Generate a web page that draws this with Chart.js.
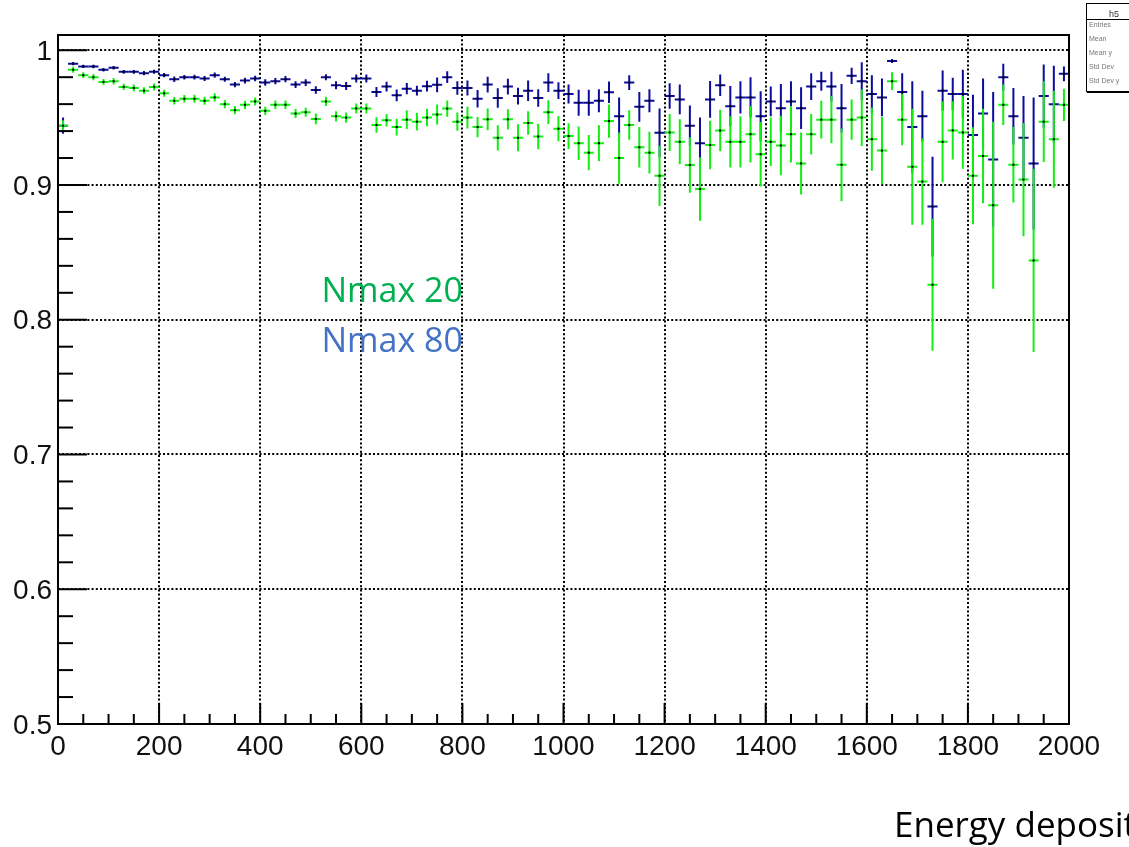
<!DOCTYPE html>
<html><head><meta charset="utf-8">
<script src="https://cdn.jsdelivr.net/npm/chart.js@4/dist/chart.umd.min.js"></script>
<style>html,body{margin:0;padding:0;background:#fff;overflow:hidden}canvas{display:block}</style>
</head><body>
<canvas id="c" width="1129" height="847"></canvas>
<script>
// ---- data ----
const binWidth = 20;            // histogram bin width (0..2000, 100 bins)
const xMin = 0, xMax = 2000, yMin = 0.5, yMax = 1.0113;
const xTicks = [0, 200, 400, 600, 800, 1000, 1200, 1400, 1600, 1800, 2000];
const xTickLabels = ["0", "200", "400", "600", "800", "1000", "1200", "1400", "1600", "1800", "2000"];
const yTicks = [0.5, 0.6, 0.7, 0.8, 0.9, 1.0];
const yTickLabels = ["0.5", "0.6", "0.7", "0.8", "0.9", "1"];
const seriesNames = ["Nmax 80", "Nmax 20"];

const effNmax80 = [
  0.944, 0.990, 0.988, 0.988, 0.9855, 0.987, 0.984, 0.984, 0.983, 0.984,
  0.9815, 0.9785, 0.980, 0.980, 0.979, 0.9815, 0.9785, 0.9745, 0.9775, 0.979,
  0.976, 0.977, 0.9785, 0.9745, 0.976, 0.9705, 0.980, 0.974, 0.9735, 0.979,
  0.979, 0.969, 0.973, 0.9665, 0.9715, 0.970, 0.9733, 0.9743, 0.980, 0.972,
  0.972, 0.964, 0.9745, 0.9645, 0.973, 0.966, 0.970, 0.9645, 0.976, 0.970,
  0.9675, 0.961, 0.961, 0.9625, 0.9688, 0.951, 0.976, 0.958, 0.9625, 0.9388,
  0.966, 0.9635, 0.944, 0.931, 0.9635, 0.974, 0.9585, 0.965, 0.965, 0.951,
  0.962, 0.957, 0.962, 0.957, 0.973, 0.977, 0.973, 0.957, 0.981, 0.977,
  0.9675, 0.965, 0.992, 0.969, 0.943, 0.951, 0.884, 0.970, 0.9675, 0.9675,
  0.937, 0.953, 0.919, 0.980, 0.951, 0.935, 0.916, 0.966, 0.960, 0.9825
];
const errNmax80 = [
  0.006, 0.0012, 0.0012, 0.0013, 0.0013, 0.0013, 0.0014, 0.0014, 0.0015, 0.0015,
  0.0016, 0.0020, 0.0017, 0.0018, 0.0018, 0.0019, 0.0019, 0.0020, 0.0021, 0.0021,
  0.0024, 0.0023, 0.0023, 0.0025, 0.0025, 0.0028, 0.0022, 0.0030, 0.0030, 0.0030,
  0.0030, 0.0038, 0.0037, 0.0044, 0.0042, 0.0036, 0.0040, 0.0054, 0.0044, 0.0050,
  0.0056, 0.0065, 0.0058, 0.0072, 0.0058, 0.0062, 0.0076, 0.0065, 0.0070, 0.0062,
  0.0070, 0.0097, 0.0097, 0.0085, 0.0080, 0.0140, 0.0055, 0.0110, 0.0085, 0.0180,
  0.0095, 0.0110, 0.0150, 0.0190, 0.0137, 0.0080, 0.0150, 0.012, 0.015, 0.0185,
  0.011, 0.018, 0.015, 0.0155, 0.010, 0.007, 0.011, 0.018, 0.006, 0.014,
  0.014, 0.014, 0.0015, 0.014, 0.034, 0.019, 0.037, 0.015, 0.012, 0.018,
  0.030, 0.026, 0.050, 0.010, 0.021, 0.031, 0.049, 0.0235, 0.0285, 0.0055
];
const effNmax20 = [
  0.944, 0.9855, 0.9815, 0.980, 0.9765, 0.977, 0.9728, 0.972, 0.970, 0.9728,
  0.968, 0.9625, 0.964, 0.964, 0.9625, 0.965, 0.960, 0.9555, 0.9595, 0.962,
  0.955, 0.9595, 0.9595, 0.953, 0.954, 0.949, 0.962, 0.951, 0.950, 0.9568,
  0.9568, 0.9445, 0.948, 0.943, 0.9485, 0.947, 0.950, 0.9523, 0.9567, 0.947,
  0.950, 0.943, 0.9487, 0.935, 0.9487, 0.935, 0.946, 0.936, 0.954, 0.9418,
  0.9363, 0.931, 0.924, 0.931, 0.9474, 0.920, 0.9445, 0.928, 0.924, 0.9068,
  0.939, 0.932, 0.9148, 0.897, 0.9297, 0.9404, 0.932, 0.932, 0.9377, 0.9228,
  0.932, 0.9293, 0.9377, 0.916, 0.9377, 0.9485, 0.9485, 0.915, 0.9485, 0.950,
  0.934, 0.9255, 0.977, 0.9485, 0.9135, 0.9025, 0.826, 0.932, 0.9405, 0.939,
  0.9068, 0.9215, 0.885, 0.9595, 0.915, 0.904, 0.844, 0.947, 0.934, 0.9595
];
const errNmax20 = [
  0.004, 0.0022, 0.0022, 0.0023, 0.0022, 0.0024, 0.0024, 0.0025, 0.0025, 0.0026,
  0.0026, 0.0028, 0.0028, 0.0029, 0.0029, 0.0030, 0.0030, 0.0031, 0.0031, 0.0030,
  0.0030, 0.0032, 0.0032, 0.0033, 0.0034, 0.0040, 0.0034, 0.0038, 0.0038, 0.0037,
  0.0037, 0.0058, 0.0046, 0.0062, 0.0070, 0.0066, 0.0065, 0.0075, 0.0060, 0.0068,
  0.0080, 0.0075, 0.0080, 0.0094, 0.0075, 0.0100, 0.0088, 0.0095, 0.0088, 0.0094,
  0.0096, 0.0124, 0.0130, 0.0134, 0.0124, 0.0190, 0.0110, 0.0150, 0.0155, 0.0224,
  0.0137, 0.0167, 0.0206, 0.0236, 0.0180, 0.0154, 0.0190, 0.019, 0.021, 0.024,
  0.018, 0.022, 0.021, 0.023, 0.015, 0.014, 0.0175, 0.027, 0.015, 0.021,
  0.0235, 0.025, 0.0066, 0.019, 0.043, 0.032, 0.049, 0.030, 0.0216, 0.027,
  0.036, 0.035, 0.062, 0.015, 0.028, 0.042, 0.068, 0.030, 0.036, 0.012
];
const statsTitle = "h5";
const statsLabels = ["Entries", "Mean", "Mean y", "Std Dev", "Std Dev y"];
const xAxisTitle = "Energy deposit";

// ---- build ----
const binCenters = effNmax80.map((_, i) => xMin + binWidth * (i + 0.5));
function pts(vals) { return vals.map((v, i) => ({ x: binCenters[i], y: v })); }

const blueCol = '#0c0c9c', greenCol = '#12ee12';

const rootPlugin = {
  id: 'rootStyle',
  beforeDatasetsDraw(chart) {
    const { ctx, chartArea: a, scales: { x, y } } = chart;
    ctx.save();
    ctx.strokeStyle = '#000';
    ctx.lineWidth = 2;
    ctx.setLineDash([2, 2.2]);
    xTicks.forEach(v => {
      if (v <= xMin || v >= xMax) return;
      const px = Math.round(x.getPixelForValue(v));
      ctx.beginPath(); ctx.moveTo(px, a.top); ctx.lineTo(px, a.bottom); ctx.stroke();
    });
    yTicks.forEach(v => {
      if (v <= yMin) return;
      const py = Math.round(y.getPixelForValue(v));
      ctx.beginPath(); ctx.moveTo(a.left, py); ctx.lineTo(a.right, py); ctx.stroke();
    });
    ctx.restore();
  },
  afterDatasetsDraw(chart) {
    const { ctx, chartArea: a, scales: { x, y } } = chart;
    ctx.save();
    // error crosses
    chart.data.datasets.forEach(ds => {
      ctx.strokeStyle = ds.borderColor;
      ctx.lineWidth = 2;
      ds.data.forEach((p, i) => {
        const e = ds.errors[i];
        const x0 = x.getPixelForValue(p.x - binWidth / 2), x1 = x.getPixelForValue(p.x + binWidth / 2);
        const xc = x.getPixelForValue(p.x), yc = y.getPixelForValue(p.y);
        ctx.beginPath();
        ctx.moveTo(x0, yc); ctx.lineTo(x1, yc);
        ctx.moveTo(xc, y.getPixelForValue(p.y + e)); ctx.lineTo(xc, y.getPixelForValue(p.y - e));
        ctx.stroke();
        ctx.fillStyle = '#000';
        ctx.fillRect(xc - 1, yc - 1, 2, 2);
      });
    });
    // frame
    ctx.strokeStyle = '#000';
    ctx.lineWidth = 2;
    ctx.strokeRect(a.left, a.top, a.right - a.left, a.bottom - a.top);
    // y ticks (inside, left)
    for (let k = 0; k <= 25; k++) {
      const v = yMin + k * 0.02;
      const py = y.getPixelForValue(v);
      const len = (k % 5 === 0) ? 29 : 15;
      ctx.beginPath(); ctx.moveTo(a.left, py); ctx.lineTo(a.left + len, py); ctx.stroke();
    }
    // x ticks (inside, bottom)
    for (let k = 0; k <= 40; k++) {
      const v = xMin + k * 50;
      const px = x.getPixelForValue(v);
      const len = (k % 4 === 0) ? 21 : 10;
      ctx.beginPath(); ctx.moveTo(px, a.bottom); ctx.lineTo(px, a.bottom - len); ctx.stroke();
    }
    // tick labels
    ctx.fillStyle = '#111';
    ctx.font = "28px 'Liberation Sans', Arial, sans-serif";
    ctx.textAlign = 'right'; ctx.textBaseline = 'middle';
    yTicks.forEach((v, i) => ctx.fillText(yTickLabels[i], a.left - 6, y.getPixelForValue(v) + 2));
    ctx.textAlign = 'center'; ctx.textBaseline = 'alphabetic';
    xTicks.forEach((v, i) => ctx.fillText(xTickLabels[i], x.getPixelForValue(v), a.bottom + 31));
    // series annotations
    ctx.font = "34px 'Open Sans', sans-serif";
    ctx.textAlign = 'right';
    ctx.fillStyle = '#00B050';
    ctx.fillText(seriesNames[1], 463, 302);
    ctx.fillStyle = '#4472C4';
    ctx.fillText(seriesNames[0], 463, 352);
    // axis title (cut at right edge)
    ctx.textAlign = 'left';
    ctx.fillStyle = '#000';
    ctx.font = "35px 'Open Sans', sans-serif";
    ctx.fillText(xAxisTitle, 894, 837);
    // stats box
    ctx.fillStyle = '#fff';
    ctx.fillRect(1087, 3, 60, 89);
    ctx.strokeStyle = '#000'; ctx.lineWidth = 1;
    ctx.strokeRect(1086.5, 3.5, 60, 88);
    ctx.lineWidth = 2;
    ctx.beginPath(); ctx.moveTo(1087, 92); ctx.lineTo(1129, 92); ctx.stroke();
    ctx.lineWidth = 1;
    ctx.beginPath(); ctx.moveTo(1087, 19.5); ctx.lineTo(1129, 19.5); ctx.stroke();
    ctx.fillStyle = '#333';
    ctx.font = "9px 'Liberation Sans', sans-serif";
    ctx.textAlign = 'center';
    ctx.fillText(statsTitle, 1114, 17);
    ctx.fillStyle = '#777';
    ctx.font = "7px 'Liberation Sans', sans-serif";
    ctx.textAlign = 'left';
    statsLabels.forEach((s, i) => ctx.fillText(s, 1089, 27 + 14 * i));
    ctx.restore();
  }
};

new Chart(document.getElementById('c'), {
  type: 'scatter',
  data: {
    datasets: [
      { label: seriesNames[0], data: pts(effNmax80), errors: errNmax80, borderColor: blueCol, backgroundColor: blueCol, pointRadius: 0, showLine: false },
      { label: seriesNames[1], data: pts(effNmax20), errors: errNmax20, borderColor: greenCol, backgroundColor: greenCol, pointRadius: 0, showLine: false }
    ]
  },
  options: {
    responsive: false,
    animation: false,
    devicePixelRatio: 1,
    layout: { padding: { left: 58, top: 35, right: 60, bottom: 123 } },
    plugins: { legend: { display: false }, tooltip: { enabled: false }, title: { display: false } },
    scales: {
      x: { type: 'linear', min: xMin, max: xMax, display: false },
      y: { type: 'linear', min: yMin, max: yMax, display: false }
    }
  },
  plugins: [rootPlugin]
});
</script>
</body></html>
